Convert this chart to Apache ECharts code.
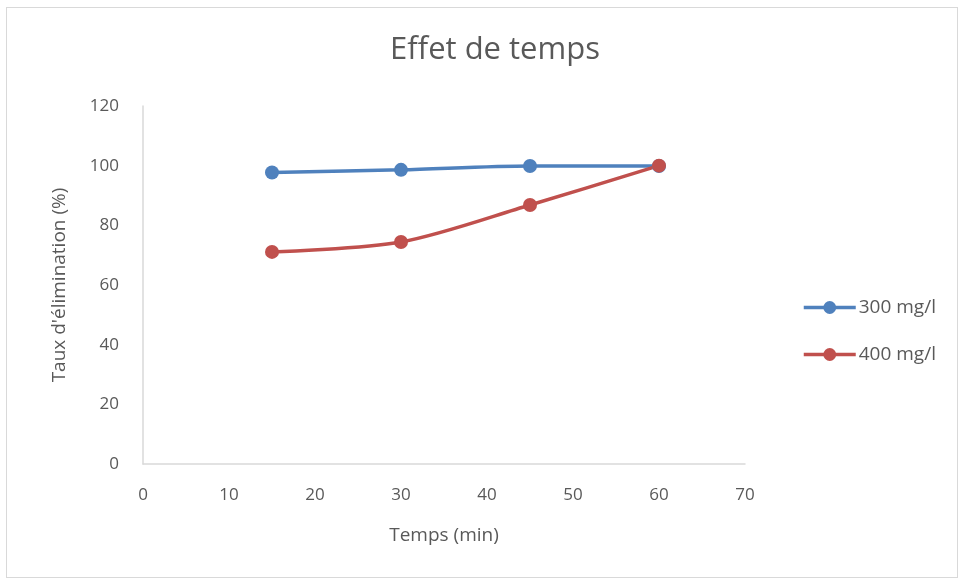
<!DOCTYPE html>
<html><head><meta charset="utf-8">
<script src="https://cdn.jsdelivr.net/npm/echarts@6/dist/echarts.min.js"></script>
<style>html,body{margin:0;padding:0;background:#fff}
#frame{position:absolute;left:6px;top:7px;width:952px;height:571px;border:1px solid #d9d9d9;box-sizing:border-box}
#c{position:absolute;left:0;top:0;width:959px;height:579px}</style>
</head><body><div id="frame"></div><div id="c"></div>
<script>
const times = [15, 30, 45, 60];
const s300 = [97.7, 98.6, 99.9, 99.9];
const s400 = [71.1, 74.4, 86.8, 100];
const seriesNames = ['300 mg/l', '400 mg/l'];
const txt = '#595959';
const font = '"Open Sans", "Liberation Sans", sans-serif';
const chart = echarts.init(document.getElementById('c'));
const pairs = a => times.map((t, i) => [t, a[i]]);
chart.setOption({
  animation: false,
  title: {text: 'Effet de temps', left: 490, top: 30, textAlign: 'center',
    textStyle: {fontFamily: font, fontWeight: 'normal', fontSize: 31, color: txt}},
  legend: {orient: 'vertical', left: 797, top: 293, itemGap: 28, itemWidth: 52, itemHeight: 16,
    lineStyle: {width: 3.5},
    textStyle: {fontFamily: font, fontSize: 19, color: txt, padding: [0,0,0,-2]},
    data: seriesNames},
  grid: {left: 143, right: 214, top: 106, bottom: 115},
  xAxis: {type: 'value', min: 0, max: 70, interval: 10,
    name: 'Temps (min)', nameLocation: 'middle', nameGap: 62,
    nameTextStyle: {fontFamily: font, fontSize: 19, color: txt},
    axisLine: {lineStyle: {color: '#d9d9d9', width: 1.5}}, axisTick: {show: false},
    splitLine: {show: false},
    axisLabel: {fontFamily: font, fontSize: 17, color: txt, margin: 23}},
  yAxis: {type: 'value', min: 0, max: 120, interval: 20,
    name: "Taux d'élimination (%)", nameLocation: 'middle', nameGap: 74,
    nameTextStyle: {fontFamily: font, fontSize: 19, color: txt},
    axisLine: {show: true, lineStyle: {color: '#d9d9d9', width: 1.5}}, axisTick: {show: false},
    splitLine: {show: false},
    axisLabel: {fontFamily: font, fontSize: 17, color: txt, margin: 24}},
  series: [
    {name: seriesNames[0], type: 'line', data: pairs(s300), smooth: 0.3, symbol: 'circle', symbolSize: 14,
      lineStyle: {color: '#4f81bd', width: 3.5}, itemStyle: {color: '#4f81bd'}},
    {name: seriesNames[1], type: 'line', data: pairs(s400), smooth: 0.3, symbol: 'circle', symbolSize: 14,
      lineStyle: {color: '#c0504d', width: 3.5}, itemStyle: {color: '#c0504d'}}
  ]
});
</script></body></html>
